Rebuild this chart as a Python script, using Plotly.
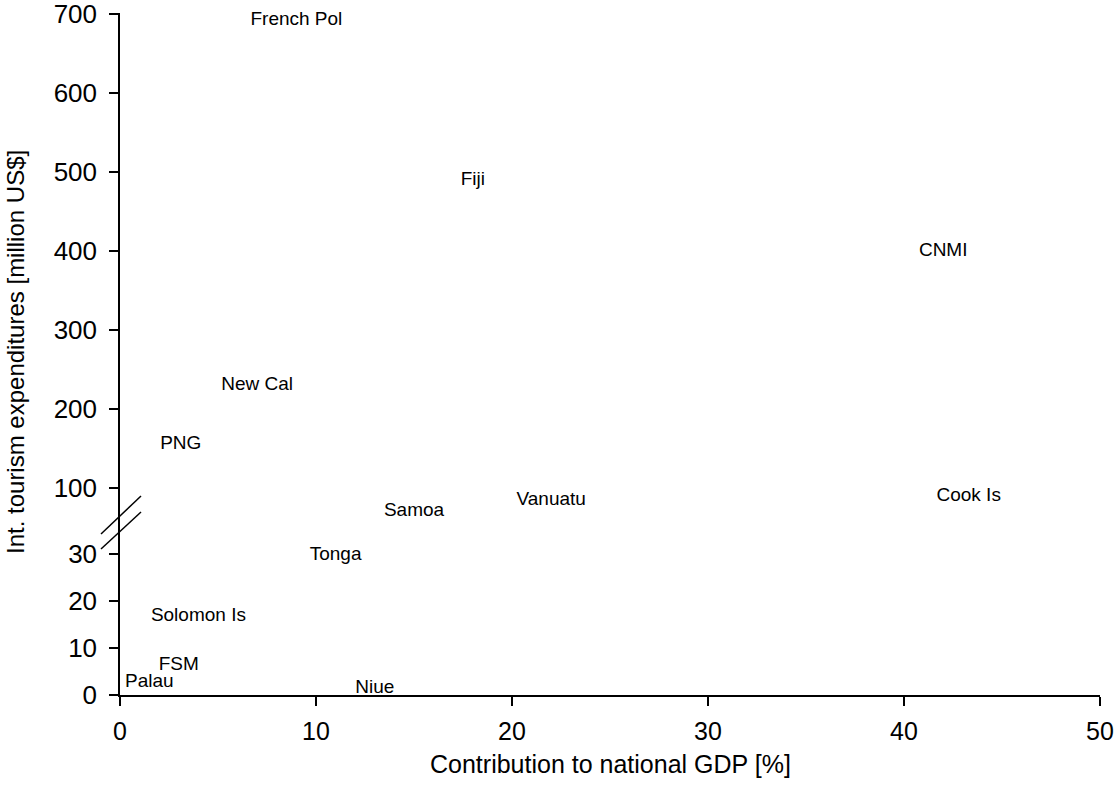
import plotly.graph_objects as go

# Data
countries = ["French Pol", "Fiji", "CNMI", "New Cal", "PNG", "Samoa", "Vanuatu",
             "Cook Is", "Tonga", "Solomon Is", "FSM", "Palau", "Niue"]
gdp_share = [9.0, 18.0, 42.0, 7.0, 3.1, 15.0, 22.0, 43.3, 11.0, 4.0, 3.0, 1.5, 13.0]
expenditure = [692, 490, 400, 230, 156, 70, 85, 89, 29.8, 16.8, 6.4, 2.8, 1.5]

lower_ticks = [0, 10, 20, 30]
upper_ticks = [100, 200, 300, 400, 500, 600, 700]
x_ticks = [0, 10, 20, 30, 40, 50]

BREAK = 50  # values below go on the lower (expanded) axis

lo = [i for i, v in enumerate(expenditure) if v < BREAK]
hi = [i for i, v in enumerate(expenditure) if v >= BREAK]

FONT = "Liberation Sans, Arial, Helvetica, sans-serif"
W, H = 1116, 801
ML, MR, MT, MB = 120, 16, 13, 106
PW, PH = W - ML - MR, H - MT - MB
split = (695 - 517) / PH

fig = go.Figure()
fig.add_trace(go.Scatter(
    x=[gdp_share[i] for i in hi], y=[expenditure[i] for i in hi],
    text=[countries[i] for i in hi], mode="text", textposition="middle center",
    textfont=dict(family=FONT, size=19, color="black"),
    yaxis="y2", cliponaxis=False, showlegend=False, hoverinfo="skip"))
fig.add_trace(go.Scatter(
    x=[gdp_share[i] for i in lo], y=[expenditure[i] for i in lo],
    text=[countries[i] for i in lo], mode="text", textposition="middle center",
    textfont=dict(family=FONT, size=19, color="black"),
    yaxis="y", cliponaxis=False, showlegend=False, hoverinfo="skip"))

axis_common = dict(showline=True, linecolor="black", linewidth=1.5, ticks="outside",
                   ticklen=9, tickwidth=1.5, tickcolor="black", showgrid=False,
                   zeroline=False, automargin=False, ticklabeloverflow="allow")

fig.update_layout(
    template="none",
    width=W, height=H, margin=dict(l=ML, r=MR, t=MT, b=MB, autoexpand=False),
    paper_bgcolor="white", plot_bgcolor="white",
    xaxis=dict(range=[0, 50], tickvals=x_ticks, anchor="y", ticklabelstandoff=4,
               tickfont=dict(family=FONT, size=25, color="black"), **axis_common),
    yaxis=dict(domain=[0, split], range=[0, 37.9], tickvals=lower_ticks,
               anchor="x", ticklabelstandoff=7,
               tickfont=dict(family=FONT, size=26, color="black"), **axis_common),
    yaxis2=dict(domain=[split, 1], range=[63.3, 701.27], tickvals=upper_ticks,
                anchor="x", ticklabelstandoff=7,
                tickfont=dict(family=FONT, size=26, color="black"), **axis_common),
    annotations=[
        dict(text="Contribution to national GDP [%]", xref="paper", yref="paper",
             x=0.5, y=(695 - 764) / PH, xanchor="center", yanchor="middle",
             showarrow=False, font=dict(family=FONT, size=25, color="black")),
        dict(text="Int. tourism expenditures [million US$]", xref="paper", yref="paper",
             x=(15 - ML) / PW, y=(695 - 352) / PH, textangle=-90,
             xanchor="center", yanchor="middle",
             showarrow=False, font=dict(family=FONT, size=24, color="black")),
    ],
    shapes=[
        dict(type="line", xref="paper", yref="paper",
             x0=(101 - ML) / PW, y0=(695 - 534) / PH, x1=(141 - ML) / PW, y1=(695 - 496) / PH,
             line=dict(color="black", width=1.5)),
        dict(type="line", xref="paper", yref="paper",
             x0=(101 - ML) / PW, y0=(695 - 549) / PH, x1=(141 - ML) / PW, y1=(695 - 512) / PH,
             line=dict(color="black", width=1.5)),
    ],
)

fig.write_html("out.html", config={"displayModeBar": False},
               post_script="document.body.style.margin='0px';document.body.style.overflow='hidden';")
